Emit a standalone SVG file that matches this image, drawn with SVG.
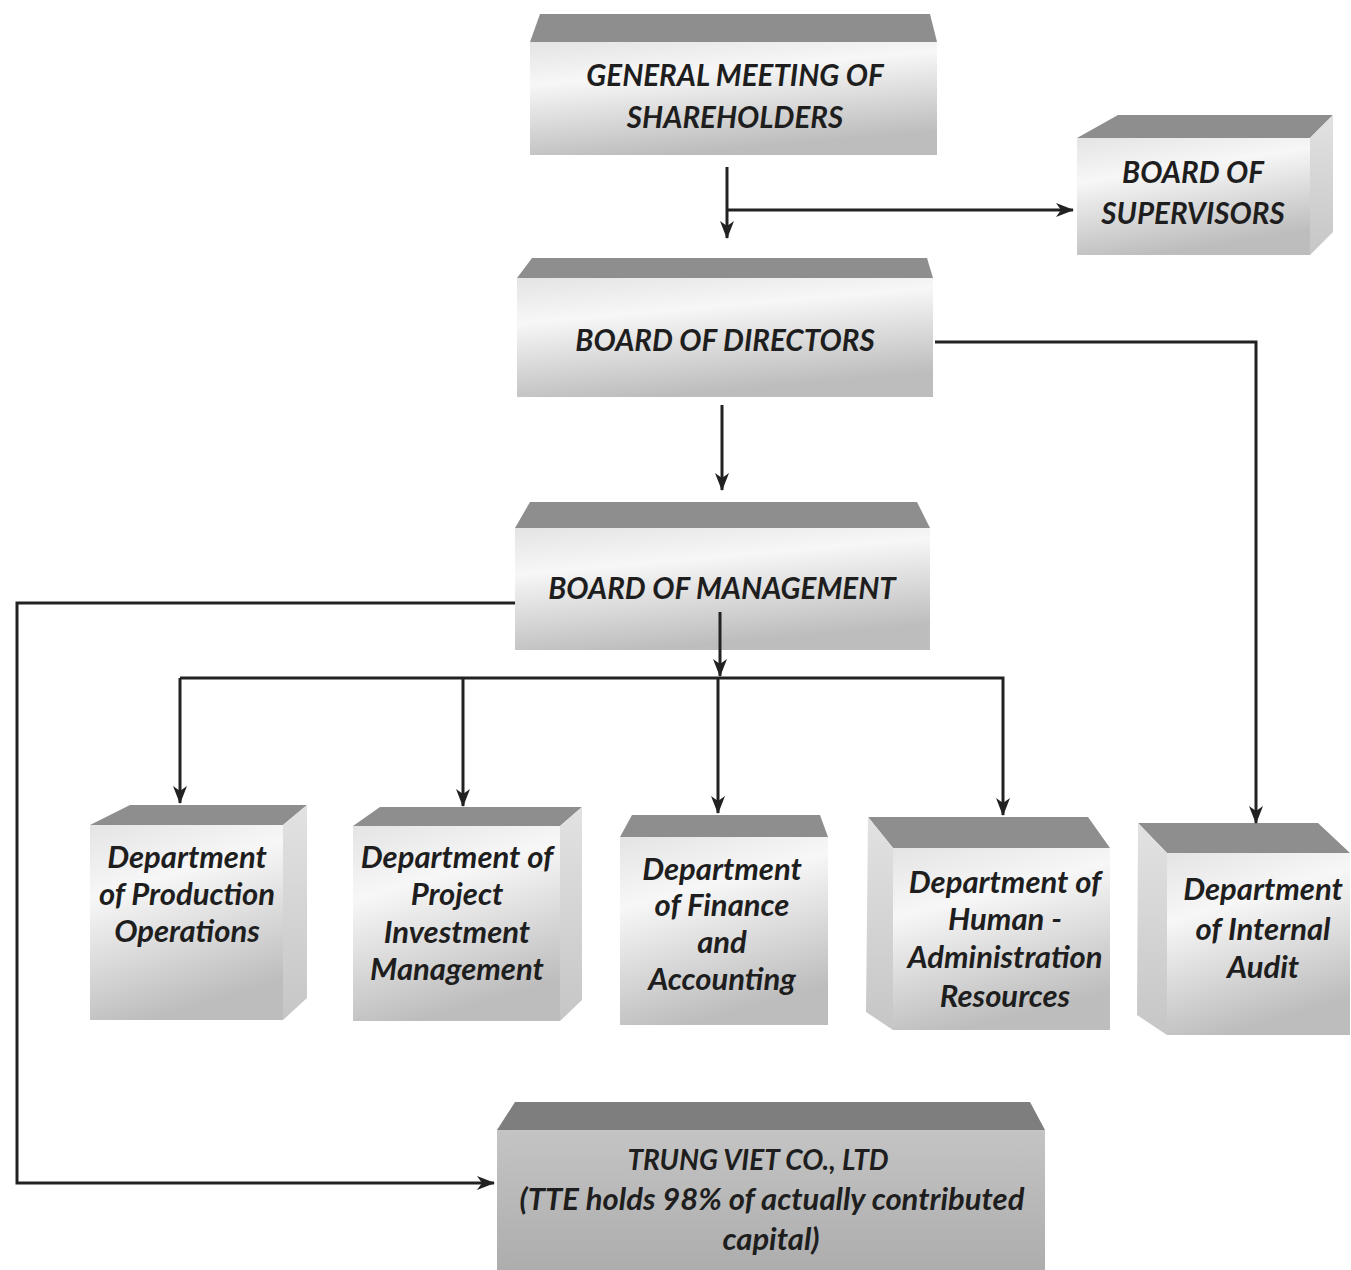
<svg xmlns="http://www.w3.org/2000/svg" width="1351" height="1270" viewBox="0 0 1351 1270">
<defs>
<linearGradient id="front" x1="0" y1="0" x2="0.3" y2="1">
<stop offset="0" stop-color="#e4e4e4"/>
<stop offset="0.35" stop-color="#f7f7f7"/>
<stop offset="1" stop-color="#bdbdbd"/>
</linearGradient>
<linearGradient id="frontDark" x1="0" y1="0" x2="0" y2="1">
<stop offset="0" stop-color="#c4c4c4"/>
<stop offset="1" stop-color="#adadad"/>
</linearGradient>
<linearGradient id="side" x1="0" y1="0" x2="0" y2="1">
<stop offset="0" stop-color="#e2e2e2"/>
<stop offset="1" stop-color="#c6c6c6"/>
</linearGradient>
<marker id="arr" viewBox="0 0 18 14" refX="17" refY="7" markerWidth="18" markerHeight="14" markerUnits="userSpaceOnUse" orient="auto">
<path d="M0,0 L18,7 L0,14 L5,7 z" fill="#222"/>
</marker>
</defs>
<style>
.top{fill:#8e8e8e}
.topd{fill:#7e7e7e}
.front{fill:url(#front)}
.side{fill:url(#side)}
.t{font-family:Lato,"Open Sans","Liberation Sans",sans-serif;font-weight:bold;font-style:italic;fill:#1e1e1e;text-anchor:middle}
.b{font-size:29.5px}
.d{font-size:31px}
.c{fill:none;stroke:#222;stroke-width:3}
</style>
<rect width="1351" height="1270" fill="#ffffff"/>

<g id="general-meeting">
<polygon class="top" points="540,14 930,14 937,42 530,42"/>
<rect class="front" x="530" y="42" width="407" height="113"/>
<text class="t b" x="735" y="86">GENERAL MEETING OF</text>
<text class="t b" x="735" y="128">SHAREHOLDERS</text>
</g>

<g id="board-of-supervisors">
<polygon class="top" points="1118,115 1333,115 1310,138 1077,138"/>
<polygon class="side" points="1310,138 1333,115 1333,232 1310,255"/>
<rect class="front" x="1077" y="138" width="233" height="117"/>
<text class="t b" x="1193" y="183">BOARD OF</text>
<text class="t b" x="1193" y="224">SUPERVISORS</text>
</g>

<g id="board-of-directors">
<polygon class="top" points="532,258 927,258 933,278 517,278"/>
<rect class="front" x="517" y="278" width="416" height="119"/>
<text class="t b" x="725" y="351">BOARD OF DIRECTORS</text>
</g>

<g id="board-of-management">
<polygon class="top" points="530,502 917,502 930,528 515,528"/>
<rect class="front" x="515" y="528" width="415" height="122"/>
<text class="t b" x="722" y="599">BOARD OF MANAGEMENT</text>
</g>

<g id="dept-production">
<polygon class="top" points="130,805 307,805 283,825 90,825"/>
<polygon class="side" points="283,825 307,805 307,998 283,1020"/>
<rect class="front" x="90" y="825" width="193" height="195"/>
<text class="t d" x="187" y="868">Department</text>
<text class="t d" x="187" y="905">of Production</text>
<text class="t d" x="187" y="942">Operations</text>
</g>

<g id="dept-project">
<polygon class="top" points="380,807 582,807 560,826 353,826"/>
<polygon class="side" points="560,826 582,807 582,1000 560,1021"/>
<rect class="front" x="353" y="826" width="207" height="195"/>
<text class="t d" x="457" y="868">Department of</text>
<text class="t d" x="457" y="905">Project</text>
<text class="t d" x="457" y="943">Investment</text>
<text class="t d" x="457" y="980">Management</text>
</g>

<g id="dept-finance">
<polygon class="top" points="632,815 820,815 828,837 620,837"/>
<rect class="front" x="620" y="837" width="208" height="188"/>
<text class="t d" x="722" y="880">Department</text>
<text class="t d" x="722" y="916">of Finance</text>
<text class="t d" x="722" y="953">and</text>
<text class="t d" x="722" y="990">Accounting</text>
</g>

<g id="dept-human">
<polygon class="top" points="868,817 1088,817 1110,848 893,848"/>
<polygon class="side" points="868,817 893,848 893,1030 866,1012"/>
<rect class="front" x="893" y="848" width="217" height="182"/>
<text class="t d" x="1005" y="893">Department of</text>
<text class="t d" x="1005" y="930">Human -</text>
<text class="t d" x="1005" y="968">Administration</text>
<text class="t d" x="1005" y="1007">Resources</text>
</g>

<g id="dept-audit">
<polygon class="top" points="1138,823 1318,823 1350,853 1167,853"/>
<polygon class="side" points="1138,823 1167,853 1167,1035 1137,1015"/>
<rect class="front" x="1167" y="853" width="183" height="182"/>
<text class="t d" x="1263" y="900">Department</text>
<text class="t d" x="1263" y="940">of Internal</text>
<text class="t d" x="1263" y="978">Audit</text>
</g>

<g id="trung-viet">
<polygon class="topd" points="515,1102 1030,1102 1045,1130 497,1130"/>
<rect fill="url(#frontDark)" x="497" y="1130" width="548" height="140"/>
<text class="t" style="font-size:28px" x="758" y="1170">TRUNG VIET CO., LTD</text>
<text class="t" style="font-size:31px" x="772" y="1210">(TTE holds 98% of actually contributed</text>
<text class="t" style="font-size:31px" x="771" y="1250">capital)</text>
</g>

<g id="connectors">
<path class="c" d="M727,167 V238" marker-end="url(#arr)"/>
<path class="c" d="M727,210 H1073" marker-end="url(#arr)"/>
<path class="c" d="M722,405 V490" marker-end="url(#arr)"/>
<path class="c" d="M935,342 H1256 V823" marker-end="url(#arr)"/>
<path class="c" d="M515,603 H17 V1183 H494" marker-end="url(#arr)"/>
<path class="c" d="M720,612 V676" marker-end="url(#arr)"/>
<path class="c" d="M180,678 H1003 V815" marker-end="url(#arr)"/>
<path class="c" d="M180,678 V803" marker-end="url(#arr)"/>
<path class="c" d="M463,678 V806" marker-end="url(#arr)"/>
<path class="c" d="M718,678 V813" marker-end="url(#arr)"/>
</g>
</svg>
